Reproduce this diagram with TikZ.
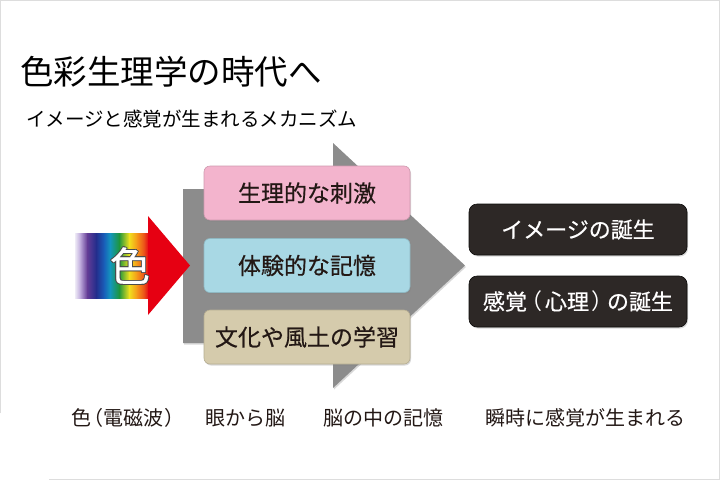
\documentclass[tikz,border=0pt]{standalone}
\usepackage{fontspec}
\newfontfamily\jp{Noto Sans CJK JP}
\newfontfamily\jpm[FakeBold=0.5]{Noto Sans CJK JP}
\newfontfamily\jpp[RawFeature=+palt]{Noto Sans CJK JP}
\usepackage[copies]{contour}
\contourlength{0.8pt}
\usetikzlibrary{shadows}
\definecolor{arrowgray}{HTML}{8C8C8C}
\definecolor{pinkc}{HTML}{F3B4CD}
\definecolor{bluec}{HTML}{A8D8E4}
\definecolor{tanc}{HTML}{D5CBAC}
\definecolor{darkc}{HTML}{2D2826}
\definecolor{txtc}{HTML}{231815}
\definecolor{bordc}{HTML}{DDDDDD}
\definecolor{rbred}{HTML}{E60012}
\definecolor{rb0}{RGB}{238,234,246}
\definecolor{rb1}{RGB}{190,170,220}
\definecolor{rb2}{RGB}{100,60,150}
\definecolor{rb3}{RGB}{35,45,140}
\definecolor{rb4}{RGB}{25,95,185}
\definecolor{rb5}{RGB}{20,150,190}
\definecolor{rb6}{RGB}{30,150,60}
\definecolor{rb7}{RGB}{240,225,30}
\definecolor{rb8}{RGB}{245,150,25}
\definecolor{rb9}{RGB}{235,80,25}
\newcommand{\pp}[1]{{\jpp #1}}
\tikzset{
  cbox/.style={rounded corners=6pt, minimum width=206pt, minimum height=54pt, inner sep=0pt,
    font=\jpm\fontsize{23}{23}\selectfont, text=txtc, draw=#1!85!black, line width=0.6pt, fill=#1,
    drop shadow={opacity=0.3, shadow xshift=1pt, shadow yshift=-1.5pt}},
  dbox/.style={rounded corners=8pt, minimum width=218pt, minimum height=51pt, inner sep=0pt,
    font=\jpm\fontsize{22}{22}\selectfont, text=white, draw=black!70!darkc, line width=0.6pt, fill=darkc,
    drop shadow={opacity=0.3, shadow xshift=1pt, shadow yshift=-1.5pt}},
  lbl/.style={inner sep=0pt, font=\jp\fontsize{20}{20}\selectfont, text=txtc},
  seg/.style={draw=none},
}
\begin{document}
\begin{tikzpicture}[x=1pt, y=-1pt]
\useasboundingbox (0,0) rectangle (720,480);
\fill[white] (0,0) rectangle (720,480);
\draw[bordc, line width=1pt] (0.5,413) -- (0.5,0.5) -- (719.5,0.5) -- (719.5,479.5) -- (49,479.5);
% titles
\node[anchor=west, inner sep=0pt, font=\jp\fontsize{33.5}{33.5}\selectfont, text=black] (title) at (20,72) {色彩生理学の時代へ};
\node[anchor=west, inner sep=0pt, font=\jp\fontsize{19.5}{19.5}\selectfont, text=black] (sub) at (26,119) {イメージと感覚が生まれるメカニズム};
% big gray arrow
\fill[arrowgray, drop shadow={opacity=0.3, shadow xshift=1pt, shadow yshift=-1.5pt}] (183,189) -- (333,189) -- (333,143) -- (465,265.5) -- (333,388) -- (333,343) -- (183,343) -- cycle;
% rainbow arrow
\foreach \xa/\xb/\ca/\cb in {75/80.3/rb0/rb1, 80/87.3/rb1/rb2, 87/96.3/rb2/rb3, 96/104.3/rb3/rb4, 104/110.3/rb4/rb5, 110/119.3/rb5/rb6, 119/129.3/rb6/rb7, 129/137.3/rb7/rb8, 137/144.3/rb8/rb9, 144/149/rb9/rbred}
  \shade[seg, left color=\ca, right color=\cb] (\xa,233) rectangle (\xb,298);
\fill[rbred] (148,216) -- (190,265.5) -- (148,315) -- cycle;
\node[inner sep=0pt, font=\jpm\fontsize{40}{40}\selectfont, text=white] (iro) at (130,266) {\contour{black!70}{色}};
% colored boxes
\node[cbox=pinkc] (b1) at (307,193) {生理的な刺激};
\node[cbox=bluec] (b2) at (307,265.5) {体験的な記憶};
\node[cbox=tanc] (b3) at (307,337) {文化や風土の学習};
% dark boxes
\node[dbox] (d1) at (578,229.5) {イメージの誕生};
\node[dbox] (d2) at (578,301.5) {感覚\hspace{3.5pt}\pp{（}\hspace{3.5pt}心理\hspace{3.5pt}\pp{）}\hspace{3.5pt}の誕生};
% bottom labels
\node[lbl] (l1) at (123,418) {色\hspace{1.5pt}\pp{（}\hspace{1pt}電磁波\hspace{1pt}\pp{）}};
\node[lbl] (l2) at (245,418) {眼から脳};
\node[lbl] (l3) at (383,418) {脳の中の記憶};
\node[lbl] (l4) at (585,418) {瞬時に感覚が生まれる};
\end{tikzpicture}
\end{document}
